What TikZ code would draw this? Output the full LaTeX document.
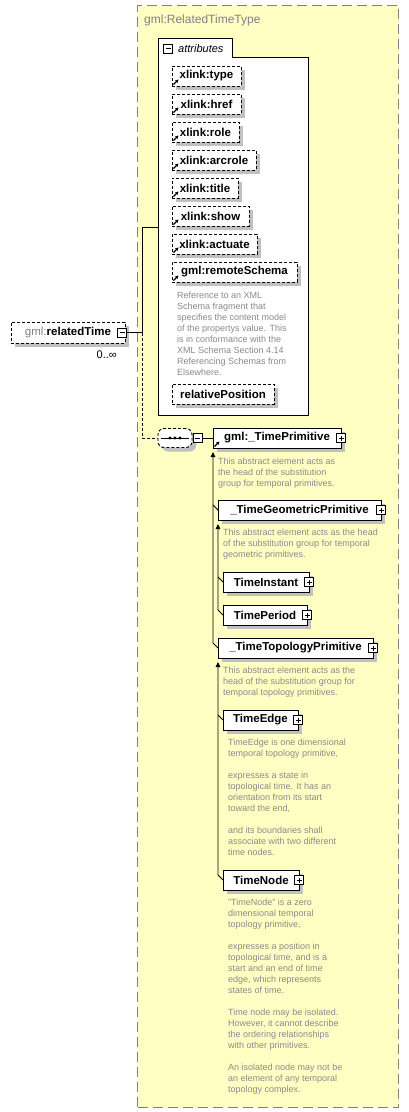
\documentclass[tikz,border=0pt]{standalone}
\usepackage{fontspec}
\setmainfont{Liberation Sans}
\usepackage{tikz}
\usetikzlibrary{arrows.meta,positioning,calc,shadows}
\definecolor{ctype}{HTML}{FFFFC4}
\definecolor{cframe}{HTML}{808080}
\definecolor{cdoc}{HTML}{8A8A8A}
\definecolor{cshadow}{HTML}{C0C0C0}

\begin{document}
\begin{tikzpicture}[
  x=1pt,y=-1pt,
  font=\fontsize{11}{13}\selectfont,
  typebox/.style={draw=cframe,fill=ctype,line width=1pt,dash pattern=on 10pt off 5pt,anchor=north west},
  elem/.style={draw,fill=white,line width=0.9pt,anchor=north west,minimum height=20pt,inner xsep=6pt,outer sep=0pt,
               font=\fontsize{11.5}{13}\selectfont\bfseries,
               drop shadow={shadow xshift=4pt,shadow yshift=-4pt,fill=cshadow,opacity=1}},
  attr/.style={elem,dash pattern=on 3pt off 2pt},
  seqbox/.style={draw,fill=white,line width=0.9pt,dash pattern=on 3pt off 2pt,rounded corners=6pt,outer sep=0pt,
                 minimum width=34pt,minimum height=19pt,
                 drop shadow={shadow xshift=4pt,shadow yshift=-4pt,fill=cshadow,opacity=1}},
  sqbox/.style={draw,fill=white,line width=0.8pt,minimum size=9pt,inner sep=0pt,outer sep=0pt},
  plusbox/.style={sqbox,path picture={\draw[line width=0.8pt]
      ([xshift=2pt]path picture bounding box.west) -- ([xshift=-2pt]path picture bounding box.east)
      ([yshift=-2pt]path picture bounding box.north) -- ([yshift=2pt]path picture bounding box.south);}},
  minusbox/.style={sqbox,path picture={\draw[line width=0.8pt]
      ([xshift=2pt]path picture bounding box.west) -- ([xshift=-2pt]path picture bounding box.east);}},
  doc/.style={font=\fontsize{9}{11}\selectfont,text=cdoc,align=left,inner sep=0pt},
  conn/.style={line width=0.9pt},
  subarr/.style={conn,-{Triangle[length=5pt,width=4.5pt]}},
  linkarr/.style={line width=1.1pt,-{Stealth[length=3.4pt,width=3.6pt]}}]
  \useasboundingbox (0,0) rectangle (409,1112);
  % complex type frame
  \node[typebox,minimum width=261pt,minimum height=1102pt] (reltype) at (137,5) {};
  \node[anchor=base west,font=\fontsize{12}{14}\selectfont,text=cframe,inner sep=0pt] (reltitle)
    at (144,23.5) {gml:RelatedTimeType};
  % attributes group
  \node[fill=white,anchor=north west,minimum width=150pt,minimum height=358pt,inner sep=0pt,outer sep=0pt] (attrbody) at (158,57) {};
  \node[fill=white,anchor=north west,minimum width=74pt,minimum height=19pt,inner sep=0pt,outer sep=0pt] (attrtab) at (158,38) {};
  \draw[conn] (attrbody.south west) |- (attrtab.north east) |- (attrbody.north east) -- (attrbody.south east) -- cycle;
  \node[minusbox] (attrminus) at (168,48.5) {};
  \node[anchor=base west,font=\fontsize{11}{13}\selectfont\itshape,inner sep=0pt] (attrlbl) at (178,52.5) {attributes};
  \node[attr,minimum width=69pt] (xtype) at (172,66) {xlink:type};
  \node[attr,minimum width=69pt,below=8pt of xtype.south west,anchor=north west] (xhref) {xlink:href};
  \node[attr,minimum width=67pt,below=8pt of xhref.south west,anchor=north west] (xrole) {xlink:role};
  \node[attr,minimum width=84pt,below=8pt of xrole.south west,anchor=north west] (xarcrole) {xlink:arcrole};
  \node[attr,minimum width=66pt,below=8pt of xarcrole.south west,anchor=north west] (xtitle) {xlink:title};
  \node[attr,minimum width=77pt,below=8pt of xtitle.south west,anchor=north west] (xshow) {xlink:show};
  \node[attr,minimum width=85pt,below=8pt of xshow.south west,anchor=north west] (xactuate) {xlink:actuate};
  \node[attr,minimum width=125pt,below=8pt of xactuate.south west,anchor=north west] (remsch) {gml:remoteSchema};
  \node[doc,below right=9.5pt and 5pt of remsch.south west] (remdoc)
    {Reference to an XML\\Schema fragment that\\specifies the content model\\of the propertys value. This\\is in conformance with the\\XML Schema Section 4.14\\Referencing Schemas from\\Elsewhere.};
  \node[attr,minimum width=102pt] (relpos) at (172,384) {relativePosition};
  % the element itself
  \node[attr,minimum width=114pt,minimum height=21pt,font=\fontsize{11.5}{13}\selectfont] (rt) at (11,322)
    {\textcolor{cframe}{gml:}\textbf{relatedTime}};
  \node[minusbox] (rtminus) at ([xshift=-3pt]rt.east) {};
  \node[anchor=north east,inner sep=0pt] (rtmult) at ([shift={(-8pt,-8pt)}]rt.south east) {0..∞};
  % sequence
  \node[seqbox] (seq) at (175,438) {};
  \draw[conn] ([xshift=3pt]seq.west) -- ([xshift=-3pt]seq.east);
  \foreach \d in {-5,0,5} \fill ([xshift=\d pt]seq.center) circle (1.7pt);
  \node[minusbox,anchor=west] (seqminus) at ([xshift=1pt]seq.east) {};
  \coordinate (fork) at ([xshift=16pt]rtminus.east);
  \draw[conn] (rtminus.east) -- (fork) |- ([yshift=9pt]attrbody.west);
  \draw[conn,dash pattern=on 3pt off 2pt] (fork) |- (seq.west);
  % substitution group heads and members
  \node[elem,minimum width=128pt] (tprim) at (213,428) {gml:\_TimePrimitive};
  \node[plusbox] (tprimplus) at (tprim.east) {};
  \draw[conn] (seqminus) -- (tprim);
  \node[doc,below right=10pt and 5pt of tprim.south west] (tprimdoc)
    {This abstract element acts as\\the head of the substitution\\group for temporal primitives.};
  \node[elem,minimum width=163pt] (tgeom) at (218,500) {\_TimeGeometricPrimitive};
  \node[plusbox] (tgeomplus) at (tgeom.east) {};
  \node[doc,below right=9pt and 5pt of tgeom.south west] (tgeomdoc)
    {This abstract element acts as the head\\of the substitution group for temporal\\geometric primitives.};
  \node[elem,minimum width=86pt] (tinst) at (223,572) {TimeInstant};
  \node[plusbox] (tinstplus) at (tinst.east) {};
  \node[elem,minimum width=84pt] (tper) at (223,605) {TimePeriod};
  \node[plusbox] (tperplus) at (tper.east) {};
  \node[elem,minimum width=155pt] (ttopo) at (218,638) {\_TimeTopologyPrimitive};
  \node[plusbox] (ttopoplus) at (ttopo.east) {};
  \node[doc,below right=9pt and 5pt of ttopo.south west] (ttopodoc)
    {This abstract element acts as the\\head of the substitution group for\\temporal topology primitives.};
  \node[elem,minimum width=75pt] (tedge) at (223,710) {TimeEdge};
  \node[plusbox] (tedgeplus) at (tedge.east) {};
  \node[doc,below right=9pt and 5pt of tedge.south west] (tedgedoc)
    {TimeEdge is one dimensional\\temporal topology primitive,\\[11pt]expresses a state in\\topological time. It has an\\orientation from its start\\toward the end,\\[11pt]and its boundaries shall\\associate with two different\\time nodes.};
  \node[elem,minimum width=76pt] (tnode) at (223,870) {TimeNode};
  \node[plusbox] (tnodeplus) at (tnode.east) {};
  \node[doc,below right=9pt and 5pt of tnode.south west] (tnodedoc)
    {"TimeNode" is a zero\\dimensional temporal\\topology primitive,\\[11pt]expresses a position in\\topological time, and is a\\start and an end of time\\edge, which represents\\states of time.\\[11pt]Time node may be isolated.\\However, it cannot describe\\the ordering relationships\\with other primitives.\\[11pt]An isolated node may not be\\an element of any temporal\\topology complex.};
  % substitution lines
  \draw[subarr] (ttopo.west) -- ($(tprim.south west |- ttopo.west)+(0,-5)$) -- ([yshift=-4pt]tprim.south west);
  \draw[conn] (tgeom.west) -- ($(tprim.south west |- tgeom.west)+(0,-5)$);
  \draw[subarr] (tper.west) -- ($(tgeom.south west |- tper.west)+(0,-5)$) -- ([yshift=-4pt]tgeom.south west);
  \draw[conn] (tinst.west) -- ($(tgeom.south west |- tinst.west)+(0,-5)$);
  \draw[subarr] (tnode.west) -- ($(ttopo.south west |- tnode.west)+(0,-5)$) -- ([yshift=-4pt]ttopo.south west);
  \draw[conn] (tedge.west) -- ($(ttopo.south west |- tedge.west)+(0,-5)$);
  % reference arrows
  \foreach \a in {xtype,xhref,xrole,xarcrole,xtitle,xshow,xactuate,remsch,tprim}
    \draw[linkarr] ([shift={(1.5pt,1.5pt)}]\a.south west) -- ++(5pt,5pt);
\end{tikzpicture}
\end{document}
